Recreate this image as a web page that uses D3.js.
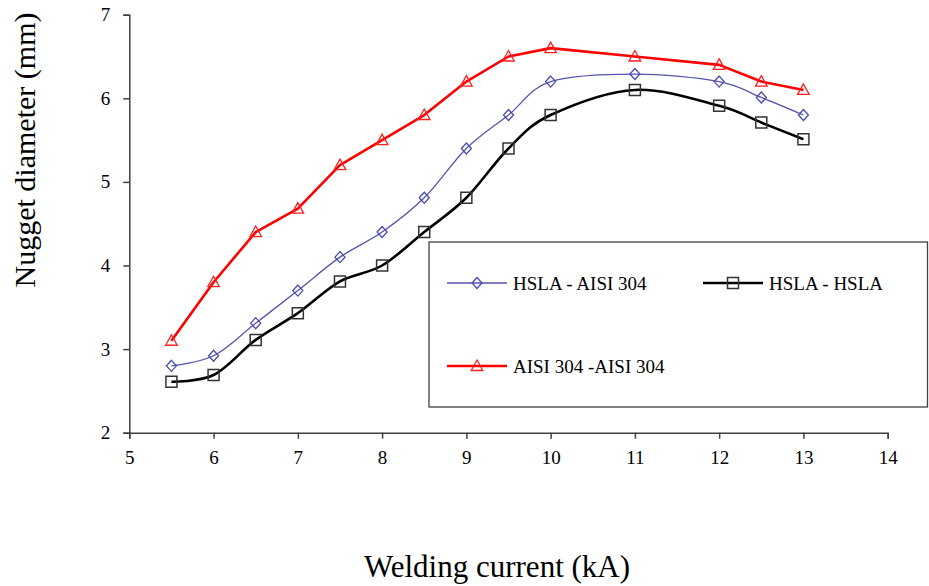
<!DOCTYPE html>
<html>
<head>
<meta charset="utf-8">
<script src="https://cdn.jsdelivr.net/npm/d3@7"></script>
<style>
  body { margin: 0; background: #fff; }
  svg { display: block; font-family: "Liberation Serif", "Times New Roman", serif; }
</style>
</head>
<body>
<svg id="chart" width="929" height="586"></svg>
<script>
const currents = [5.5, 6, 6.5, 7, 7.5, 8, 8.5, 9, 9.5, 10, 11, 12, 12.5, 13];
const hslaAisi = [2.8, 2.92, 3.31, 3.7, 4.1, 4.4, 4.81, 5.4, 5.8, 6.2, 6.29, 6.2, 6.01, 5.8];
const hslaHsla = [2.61, 2.69, 3.11, 3.43, 3.81, 4.0, 4.4, 4.81, 5.4, 5.8, 6.1, 5.91, 5.71, 5.51];
const aisiAisi = [3.1, 3.8, 4.4, 4.68, 5.2, 5.5, 5.8, 6.2, 6.5, 6.6, 6.5, 6.4, 6.2, 6.1];
const xTicks = [5, 6, 7, 8, 9, 10, 11, 12, 13, 14];
const yTicks = [2, 3, 4, 5, 6, 7];
const seriesNames = ["HSLA - AISI 304", "HSLA - HSLA", "AISI 304 -AISI 304"];

const svg = d3.select("#chart");
const x = d3.scaleLinear().domain([5, 14]).range([129.3, 887.7]);
const y = d3.scaleLinear().domain([2, 7]).range([432.7, 14.7]);

const axisColor = "#404040";

// Axes
const xAxis = svg.append("g").attr("transform", `translate(0,${y(2)})`)
  .call(d3.axisBottom(x).tickValues(xTicks).tickSize(6).tickPadding(12).tickFormat(d3.format("d")));
const yAxis = svg.append("g").attr("transform", `translate(${x(5)},0)`)
  .call(d3.axisLeft(y).tickValues(yTicks).tickSize(6).tickPadding(13).tickFormat(d3.format("d")));
[xAxis, yAxis].forEach(a => {
  a.select(".domain").attr("stroke", axisColor).attr("stroke-width", 1.5);
  a.selectAll(".tick line").attr("stroke", axisColor).attr("stroke-width", 1.5);
  a.selectAll(".tick text").attr("fill", "#000").style("font-size", "19px")
    .style("font-family", "'Liberation Serif', 'Times New Roman', serif");
});

// Titles
svg.append("text").attr("x", 497).attr("y", 577).attr("text-anchor", "middle")
  .style("font-size", "31px").attr("fill", "#000").text("Welding current (kA)");
svg.append("text").attr("transform", "translate(35,150) rotate(-90)").attr("text-anchor", "middle")
  .style("font-size", "30px").attr("fill", "#000").text("Nugget diameter (mm)");

const smooth = d3.line().x(d => x(d[0])).y(d => y(d[1])).curve(d3.curveCardinal.tension(0));
const straight = d3.line().x(d => x(d[0])).y(d => y(d[1]));

const series = [
  { name: seriesNames[0], vals: hslaAisi, line: smooth, color: "#5454ac", width: 1.3, marker: "diamond", mcolor: "#4a4ab0", mwidth: 1.3 },
  { name: seriesNames[1], vals: hslaHsla, line: smooth, color: "#000000", width: 2.6, marker: "square", mcolor: "#333333", mwidth: 1.5 },
  { name: seriesNames[2], vals: aisiAisi, line: straight, color: "#ff0000", width: 2.6, marker: "triangle", mcolor: "#ff2020", mwidth: 1.3 }
];

function markerPath(type) {
  if (type === "diamond") return "M0,-5.5L5,0L0,5.5L-5,0Z";
  if (type === "square") return "M-5.5,-5.5H5.5V5.5H-5.5Z";
  return "M0,-6L5.8,4.5H-5.8Z";
}

// Legend box
svg.append("rect").attr("x", 429).attr("y", 242).attr("width", 498.5).attr("height", 165)
  .attr("fill", "#fff").attr("stroke", axisColor).attr("stroke-width", 1.3);

series.forEach(s => {
  const pts = currents.map((c, i) => [c, s.vals[i]]);
  svg.append("path").attr("d", s.line(pts)).attr("fill", "none")
    .attr("stroke", s.color).attr("stroke-width", s.width).attr("stroke-linejoin", "round");
  svg.append("g").selectAll("path").data(pts).join("path")
    .attr("transform", d => `translate(${x(d[0])},${y(d[1])})`)
    .attr("d", markerPath(s.marker)).attr("fill", "none")
    .attr("stroke", s.mcolor).attr("stroke-width", s.mwidth);
});

// Legend entries
const legendPos = [[447, 283], [703, 283], [447, 366]];
series.forEach((s, i) => {
  const [lx, ly] = legendPos[i];
  const g = svg.append("g").attr("transform", `translate(${lx},${ly})`);
  g.append("line").attr("x1", 0).attr("x2", 60).attr("y1", 0).attr("y2", 0)
    .attr("stroke", s.color).attr("stroke-width", s.width);
  g.append("path").attr("transform", "translate(30,0)").attr("d", markerPath(s.marker))
    .attr("fill", "none").attr("stroke", s.mcolor).attr("stroke-width", s.mwidth);
  g.append("text").attr("x", 66).attr("y", 7).style("font-size", "19px").attr("fill", "#000").text(s.name);
});
</script>
</body>
</html>
